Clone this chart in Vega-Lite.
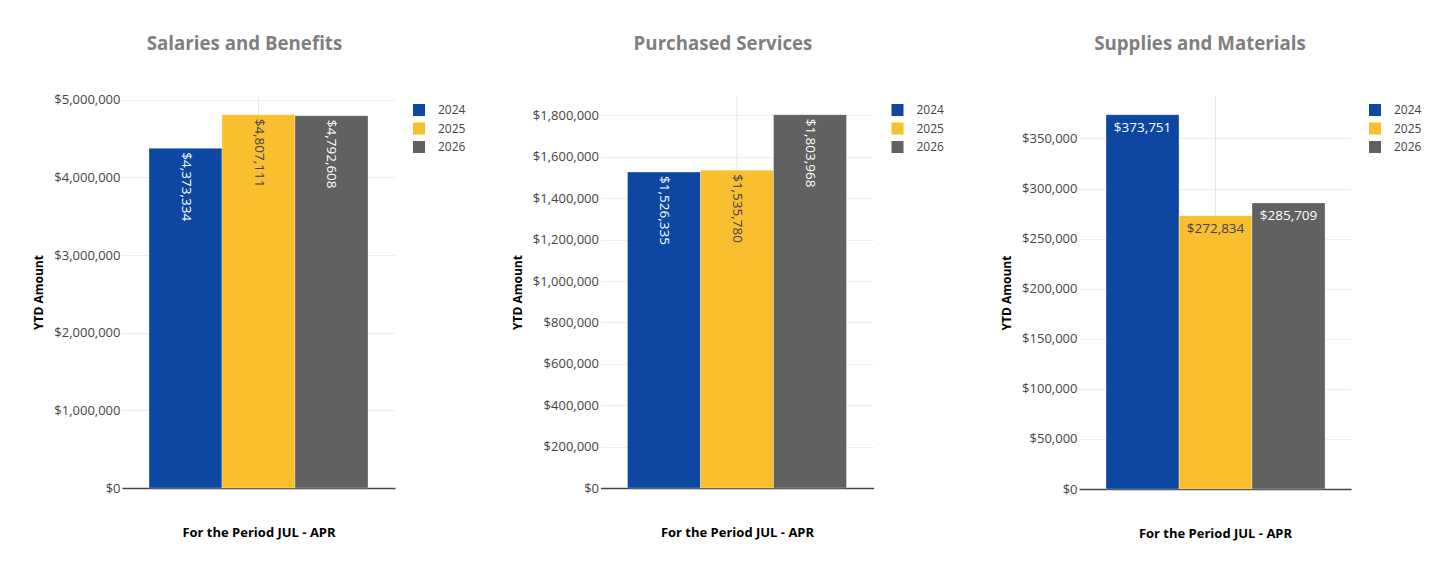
{
  "$schema": "https://vega.github.io/schema/vega-lite/v6.json",
  "background": "white",
  "padding": {"left": 32, "top": 34, "right": 5, "bottom": 5},
  "datasets": {
    "costs": [
      {"category": "Salaries and Benefits", "period": "JUL - APR", "year": "2024", "value": 4373334},
      {"category": "Salaries and Benefits", "period": "JUL - APR", "year": "2025", "value": 4807111},
      {"category": "Salaries and Benefits", "period": "JUL - APR", "year": "2026", "value": 4792608},
      {"category": "Purchased Services", "period": "JUL - APR", "year": "2024", "value": 1526335},
      {"category": "Purchased Services", "period": "JUL - APR", "year": "2025", "value": 1535780},
      {"category": "Purchased Services", "period": "JUL - APR", "year": "2026", "value": 1803968},
      {"category": "Supplies and Materials", "period": "JUL - APR", "year": "2024", "value": 373751},
      {"category": "Supplies and Materials", "period": "JUL - APR", "year": "2025", "value": 272834},
      {"category": "Supplies and Materials", "period": "JUL - APR", "year": "2026", "value": 285709}
    ]
  },
  "bounds": "flush",
  "spacing": 205.5,
  "resolve": {"legend": {"color": "independent"}, "scale": {"y": "independent"}},
  "hconcat": [
    {
      "title": {"text": "Salaries and Benefits", "dx": -14},
      "width": 273,
      "height": 392,
      "data": {"name": "costs"},
      "transform": [{"filter": "datum.category === 'Salaries and Benefits'"}],
      "encoding": {
        "x": {"field": "period", "type": "nominal", "scale": {"paddingInner": 0, "paddingOuter": 0.1233}, "axis": {"title": "For the Period JUL - APR"}},
        "xOffset": {"field": "year", "type": "nominal", "scale": {"paddingInner": 0, "paddingOuter": 0}},
        "y": {"field": "value", "type": "quantitative", "scale": {"domain": [0, 5047466], "nice": false}, "axis": {"title": "YTD Amount", "values": [0, 1000000, 2000000, 3000000, 4000000, 5000000], "format": "$,.0f"}}
      },
      "layer": [
        {"mark": {"type": "bar", "stroke": "white", "strokeWidth": 0.5, "strokeOpacity": 0.6},
         "encoding": {"color": {"field": "year", "type": "nominal", "scale": {"domain": ["2024", "2025", "2026"], "range": ["#0D47A1", "#F9BF2E", "#616161"]}, "legend": {"title": null}}}},
        {"mark": {"type": "text", "angle": 90, "align": "left", "baseline": "middle", "dx": 4, "fontSize": 13.5, "font": "Open Sans"},
         "encoding": {"text": {"field": "value", "type": "quantitative", "format": "$,.0f"},
                      "color": {"condition": {"test": "datum.year === '2025'", "value": "#3f3f50"}, "value": "white"}}}
      ]
    },
    {
      "title": {"text": "Purchased Services", "dx": -14, "dy": -2},
      "width": 273,
      "height": 392,
      "data": {"name": "costs"},
      "transform": [{"filter": "datum.category === 'Purchased Services'"}],
      "encoding": {
        "x": {"field": "period", "type": "nominal", "scale": {"paddingInner": 0, "paddingOuter": 0.1233}, "axis": {"title": "For the Period JUL - APR"}},
        "xOffset": {"field": "year", "type": "nominal", "scale": {"paddingInner": 0, "paddingOuter": 0}},
        "y": {"field": "value", "type": "quantitative", "scale": {"domain": [0, 1894166], "nice": false}, "axis": {"title": "YTD Amount", "values": [0, 200000, 400000, 600000, 800000, 1000000, 1200000, 1400000, 1600000, 1800000], "format": "$,.0f"}}
      },
      "layer": [
        {"mark": {"type": "bar", "stroke": "white", "strokeWidth": 0.5, "strokeOpacity": 0.6},
         "encoding": {"color": {"field": "year", "type": "nominal", "scale": {"domain": ["2024", "2025", "2026"], "range": ["#0D47A1", "#F9BF2E", "#616161"]}, "legend": {"title": null}}}},
        {"mark": {"type": "text", "angle": 90, "align": "left", "baseline": "middle", "dx": 4, "fontSize": 13.5, "font": "Open Sans"},
         "encoding": {"text": {"field": "value", "type": "quantitative", "format": "$,.0f"},
                      "color": {"condition": {"test": "datum.year === '2025'", "value": "#3f3f50"}, "value": "white"}}}
      ]
    },
    {
      "title": {"text": "Supplies and Materials", "dx": -15, "dy": -2},
      "width": 272,
      "height": 393,
      "data": {"name": "costs"},
      "transform": [{"filter": "datum.category === 'Supplies and Materials'"}],
      "encoding": {
        "x": {"field": "period", "type": "nominal", "scale": {"paddingInner": 0, "paddingOuter": 0.124}, "axis": {"title": "For the Period JUL - APR"}},
        "xOffset": {"field": "year", "type": "nominal", "scale": {"paddingInner": 0, "paddingOuter": 0}},
        "y": {"field": "value", "type": "quantitative", "scale": {"domain": [0, 392439], "nice": false}, "axis": {"title": "YTD Amount", "values": [0, 50000, 100000, 150000, 200000, 250000, 300000, 350000], "format": "$,.0f"}}
      },
      "layer": [
        {"mark": {"type": "bar", "stroke": "white", "strokeWidth": 0.5, "strokeOpacity": 0.6},
         "encoding": {"color": {"field": "year", "type": "nominal", "scale": {"domain": ["2024", "2025", "2026"], "range": ["#0D47A1", "#F9BF2E", "#616161"]}, "legend": {"title": null}}}},
        {"mark": {"type": "text", "align": "center", "baseline": "middle", "dy": 13, "fontSize": 13.5, "font": "Open Sans"},
         "encoding": {"text": {"field": "value", "type": "quantitative", "format": "$,.0f"},
                      "color": {"condition": {"test": "datum.year === '2025'", "value": "#3f3f50"}, "value": "white"}}}
      ]
    }
  ],
  "config": {
    "font": "Open Sans",
    "view": {"stroke": null},
    "title": {"font": "Open Sans", "fontSize": 18.7, "fontWeight": "bold", "color": "#7f7f7f", "offset": 40, "anchor": "middle"},
    "axis": {"labelFont": "Open Sans", "labelFontSize": 13, "labelColor": "#444444", "titleFont": "Open Sans", "titleFontSize": 12, "titleFontWeight": "bold", "titleColor": "#000000", "gridColor": "#eeeeee", "gridWidth": 1},
    "axisY": {"domain": false, "ticks": false, "labelPadding": 2, "titlePadding": 8, "grid": true},
    "axisX": {"domain": true, "domainColor": "#444444", "domainWidth": 1.5, "ticks": false, "labels": false, "grid": true, "gridColor": "#e6e6e6", "bandPosition": 0.5, "titlePadding": 38, "titleFontSize": 13},
    "legend": {"orient": "right", "offset": 10, "padding": 8, "symbolType": "square", "symbolSize": 144, "symbolStrokeWidth": 0, "labelFont": "Open Sans", "labelFontSize": 12, "labelColor": "#444444", "rowPadding": 6.5, "labelOffset": 13}
  }
}
